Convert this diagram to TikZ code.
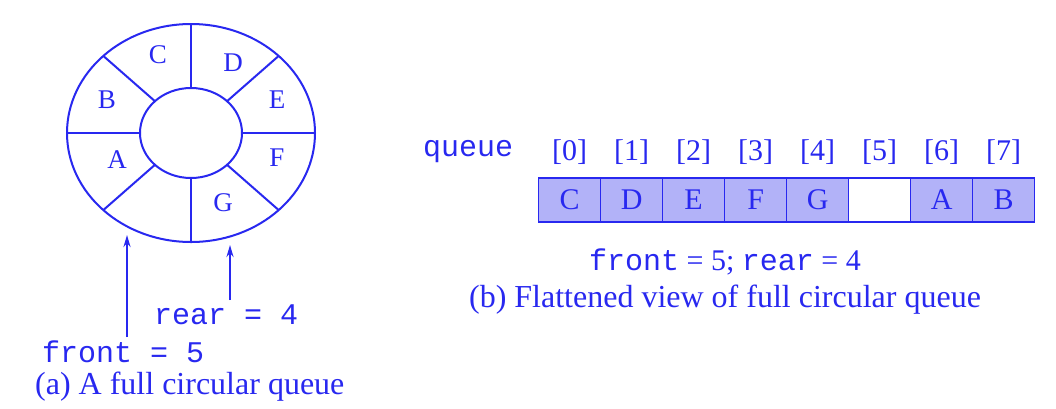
\documentclass[tikz,border=0pt]{standalone}
\usepackage{fontspec}
\setmainfont{Liberation Serif}
\setmonofont{Liberation Mono}
\usetikzlibrary{arrows.meta}

\definecolor{qblue}{RGB}{40,40,240}
\definecolor{qfill}{RGB}{178,178,248}

\tikzset{
  ringline/.style={qblue, line width=2pt},
  slot/.style={inner sep=0pt, text=qblue, font=\fontsize{27}{32}\selectfont},
  cell/.style={draw=qblue, line width=1.5pt, minimum width=62pt, minimum height=44pt,
    inner sep=0pt, text=qblue, font=\fontsize{30}{34}\selectfont},
  idx/.style={inner sep=0pt, text=qblue, font=\fontsize{30}{34}\selectfont},
  mono/.style={inner sep=0pt, text=qblue, font=\fontsize{30}{34}\selectfont\ttfamily},
  capt/.style={inner sep=0pt, text=qblue, font=\fontsize{32}{36}\selectfont},
  qarrow/.style={qblue, line width=2pt, -{Stealth[length=12pt, width=7pt]}}
}

\begin{document}
\begin{tikzpicture}[x=1pt, y=-1pt]
  \fill[white] (0,0) rectangle (1056,408);
  \useasboundingbox (0,0) rectangle (1056,408);

  % (a) the ring
  \coordinate (ctr) at (191,133);
  \draw[ringline] (ctr) ellipse [x radius=124pt, y radius=109pt];
  \draw[ringline] (ctr) ellipse [x radius=51pt, y radius=45pt];
  \foreach \a in {0,45,...,315}
    \draw[ringline] ([shift={(\a:51pt and 45pt)}]ctr) -- ([shift={(\a:124pt and 109pt)}]ctr);

  \node[slot] (sC) at (158,55) {C};
  \node[slot] (sD) at (233,63) {D};
  \node[slot] (sB) at (107,100) {B};
  \node[slot] (sE) at (277,100) {E};
  \node[slot] (sA) at (117,160) {A};
  \node[slot] (sF) at (277,158) {F};
  \node[slot] (sG) at (223,203) {G};

  \node[mono, anchor=west] (rearlbl) at (154,315) {rear = 4};
  \node[mono, anchor=west] (frontlbl) at (42,352) {front = 5};
  \node[capt, anchor=west] (capa) at (35,387) {(a) A full circular queue};

  \coordinate (fronttail) at (127,337);
  \coordinate (fronttip) at (127,235);
  \coordinate (reartail) at (230,300);
  \coordinate (reartip) at (230,245);
  \draw[qarrow] (fronttail) -- (fronttip);
  \draw[qarrow] (reartail) -- (reartip);

  % (b) the flattened array
  \node[mono] (qname) at (468,152) {queue};
  \foreach \v/\f [count=\i from 0] in {C/qfill,D/qfill,E/qfill,F/qfill,G/qfill,/white,A/qfill,B/qfill}
  {
    \node[cell, fill=\f] (cell\i) at (569.6+62*\i,200) {\v};
    \node[idx] (idx\i) at ([yshift=25pt]cell\i.north) {[\i]};
  }

  \node[idx] (ptrs) at (725,262) {{\ttfamily front} = 5; {\ttfamily rear} = 4};
  \node[capt] (capb) at (725,300) {(b) Flattened view of full circular queue};
\end{tikzpicture}
\end{document}
